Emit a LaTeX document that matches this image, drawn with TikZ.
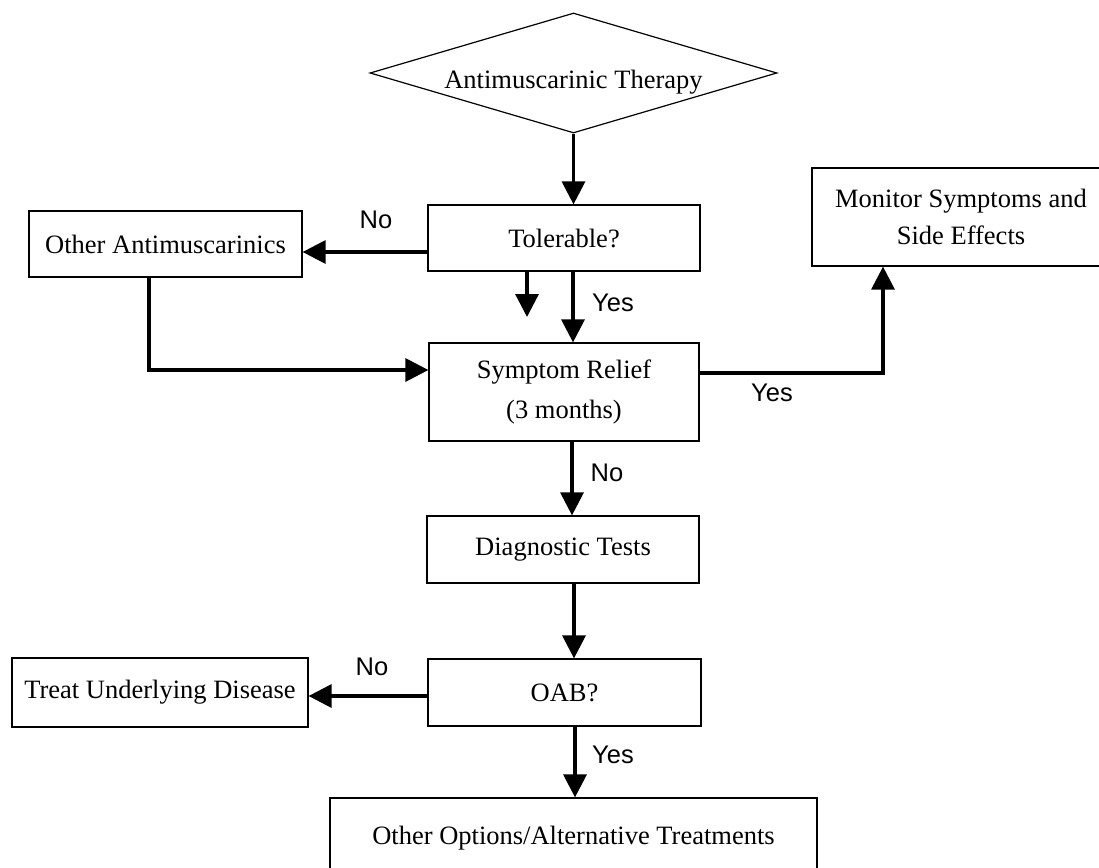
\documentclass[tikz,border=0pt]{standalone}
\usepackage{fontspec}
\setmainfont{Liberation Serif}
\newfontfamily\labelfont{Liberation Sans}
\usetikzlibrary{shapes.geometric,arrows.meta,calc}
\begin{document}
\begin{tikzpicture}[x=1pt,y=-1pt,
  box/.style={draw, line width=1.2pt, inner sep=0pt, align=center,
              font=\fontsize{26.5}{40}\selectfont},
  conn/.style={line width=3.2pt, -{Triangle[width=23pt,length=23pt]}},
  lbl/.style={font=\labelfont\fontsize{25.5}{30}\selectfont, inner sep=0pt}]
\useasboundingbox (0,0) rectangle (1099,867);
% nodes
\node[box, diamond, aspect=3.39, minimum width=407pt, minimum height=120pt] (therapy) at (573.5,73) {\raisebox{-15pt}[0pt][0pt]{Antimuscarinic Therapy}};
\node[box, minimum width=272pt, minimum height=66pt] (tol) at (564,238) {Tolerable?};
\node[box, minimum width=273pt, minimum height=66pt] (other) at (165.5,244) {Other Antimuscarinics};
\node[box, minimum width=270pt, minimum height=98pt] (relief) at (564,392) {Symptom Relief\\(3 months)};
\node[box, minimum width=298pt, minimum height=98pt, font=\fontsize{26.5}{37}\selectfont] (monitor) at (961,217) {Monitor Symptoms and\\Side Effects};
\node[box, minimum width=272pt, minimum height=67pt] (diag) at (563,549.5) {Diagnostic Tests};
\node[box, minimum width=273pt, minimum height=67pt] (oab) at (564.5,692.5) {OAB?};
\node[box, minimum width=296pt, minimum height=69pt] (treat) at (160,692.5) {Treat Underlying Disease};
\node[box, minimum width=487pt, minimum height=80pt] (options) at (573.5,838) {Other Options/Alternative Treatments};
% coordinates
\coordinate (a1) at ($(tol.west)+(0,14)$);
\coordinate (s1) at (527,317);
\coordinate (x573) at (573,300);
\coordinate (b1) at (149,370);
\coordinate (c1) at (883,373);
\coordinate (x572) at (572,480);
\coordinate (x574) at (574,620);
\coordinate (y696) at (400,696);
\coordinate (x575) at (575,760);
% connectors
\draw[conn] (therapy.south) -- (therapy.south |- tol.north);
\draw[conn] (a1) -- (a1 -| other.east);
\draw[conn] (s1 |- tol.south) -- (s1);
\draw[conn] (x573 |- tol.south) -- (x573 |- relief.north);
\draw[conn] (b1 |- other.south) -- (b1) -- (b1 -| relief.west);
\draw[conn] (c1 -| relief.east) -- (c1) -- (c1 |- monitor.south);
\draw[conn] (x572 |- relief.south) -- (x572 |- diag.north);
\draw[conn] (x574 |- diag.south) -- (x574 |- oab.north);
\draw[conn] (y696 -| oab.west) -- (y696 -| treat.east);
\draw[conn] (x575 |- oab.south) -- (x575 |- options.north);
% labels
\node[lbl] (l1) at (376,220) {No};
\node[lbl] (l2) at (613,303) {Yes};
\node[lbl] (l3) at (772,393) {Yes};
\node[lbl] (l4) at (607,473) {No};
\node[lbl] (l5) at (372,667) {No};
\node[lbl] (l6) at (613,755) {Yes};
\end{tikzpicture}
\end{document}
